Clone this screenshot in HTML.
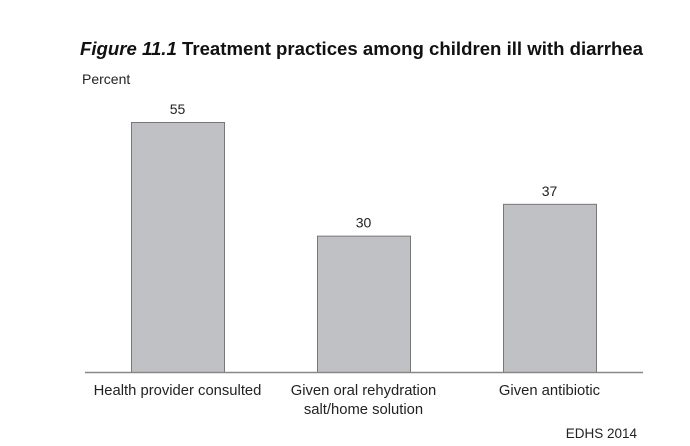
<!DOCTYPE html>
<html><head><meta charset="utf-8"><style>
html,body{margin:0;padding:0;background:#fff;width:690px;height:446px;overflow:hidden}
svg{display:block;font-family:"Liberation Sans",sans-serif}
</style></head><body>
<svg width="690" height="446">
<text x="80" y="55" font-size="18.5" font-weight="bold" fill="#111" textLength="563" lengthAdjust="spacingAndGlyphs"><tspan font-style="italic">Figure 11.1</tspan>  Treatment practices among children ill with diarrhea</text>
<text x="82" y="84" font-size="14" fill="#222">Percent</text>
<g id="bars"></g>
<line x1="85" y1="372.5" x2="643" y2="372.5" stroke="#888" stroke-width="1.5"/>
<text x="637" y="438" font-size="13.5" text-anchor="end" fill="#222">EDHS 2014</text>
</svg>
<script>
const categories=[["Health provider consulted"],["Given oral rehydration","salt/home solution"],["Given antibiotic"]];
const values=[55,30,37];
const g=document.getElementById('bars');
const NS='http://www.w3.org/2000/svg';
const base=372,scale=250/55,x0=131,step=186,bw=93;
function yPos(v){return base-v*scale;}
function xPos(i){return x0+i*step;}
values.forEach((v,i)=>{
 const r=document.createElementNS(NS,'rect');
 r.setAttribute('x',xPos(i)+0.5);r.setAttribute('y',yPos(v)+0.5);
 r.setAttribute('width',bw);r.setAttribute('height',base-yPos(v));
 r.setAttribute('fill','#c0c1c4');r.setAttribute('stroke','#777');r.setAttribute('stroke-width','1');
 
 
 g.appendChild(r);
 const t=document.createElementNS(NS,'text');
 t.setAttribute('x',xPos(i)+bw/2);t.setAttribute('y',yPos(v)-8);
 t.setAttribute('text-anchor','middle');t.setAttribute('font-size','14');t.setAttribute('fill','#222');
 t.textContent=v;
 
 
 g.appendChild(t);
 categories[i].forEach((line,j)=>{
  const c=document.createElementNS(NS,'text');
  c.setAttribute('x',xPos(i)+bw/2);c.setAttribute('y',395+j*19);
  c.setAttribute('text-anchor','middle');c.setAttribute('font-size','14.8');c.setAttribute('fill','#222');
  c.textContent=line;
  
  
  g.appendChild(c);
 });
});
</script>
</body></html>
